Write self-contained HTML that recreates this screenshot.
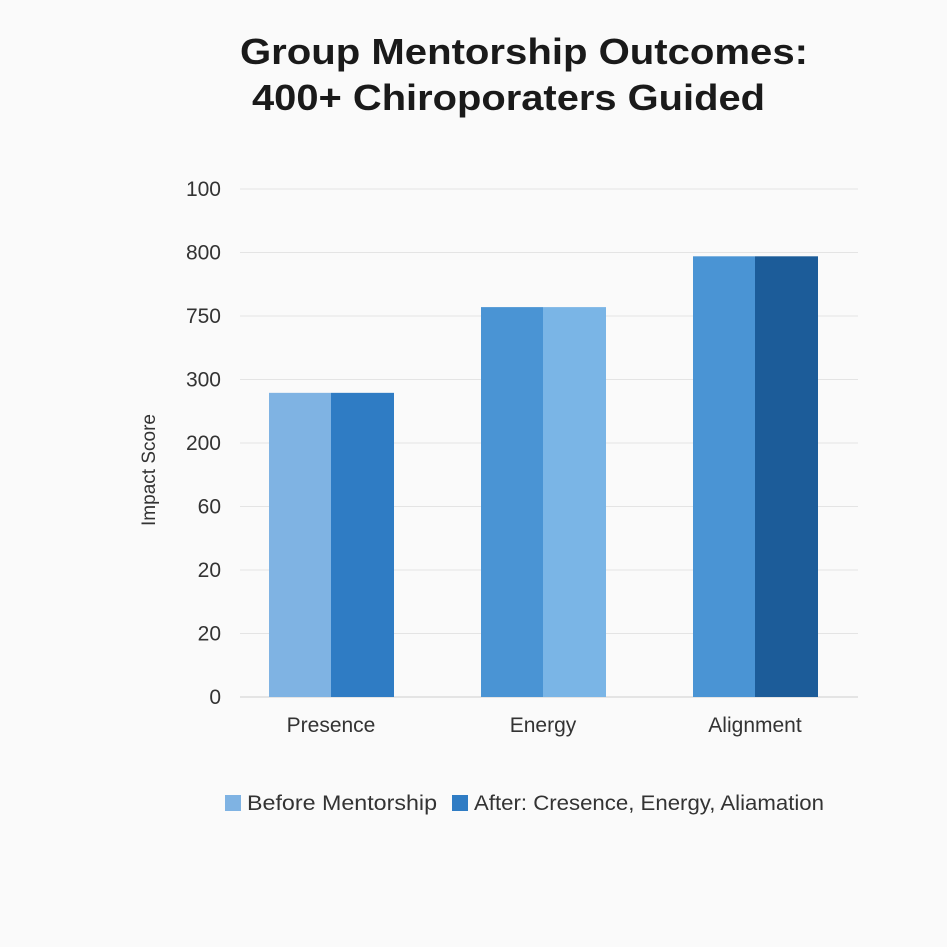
<!DOCTYPE html>
<html><head><meta charset="utf-8"><style>
body{margin:0;background:#fafafa;}
svg{display:block;font-family:"Liberation Sans",sans-serif;}
</style></head><body>
<svg id="chart" width="947" height="947" viewBox="0 0 947 947">
<rect width="947" height="947" fill="#fafafa"/>
<text x="240" y="64" font-size="36" font-weight="bold" fill="#1a1a1a" textLength="568" lengthAdjust="spacingAndGlyphs">Group Mentorship Outcomes:</text>
<text x="252" y="110" font-size="36" font-weight="bold" fill="#1a1a1a" textLength="513" lengthAdjust="spacingAndGlyphs">400+ Chiroporaters Guided</text>
<text transform="translate(155,470) rotate(-90)" text-anchor="middle" font-size="19" fill="#333">Impact Score</text>
<g id="grid"></g><g id="bars"></g><g id="xlabels"></g>
<g>
<rect x="225" y="795" width="16" height="16" fill="#7fb3e3"/>
<text x="247" y="810" font-size="21" fill="#333" textLength="190" lengthAdjust="spacingAndGlyphs">Before Mentorship</text>
<rect x="452" y="795" width="16" height="16" fill="#2f7cc4"/>
<text x="474" y="810" font-size="21" fill="#333" textLength="350" lengthAdjust="spacingAndGlyphs">After: Cresence, Energy, Aliamation</text>
</g>
</svg>
<script>
const categories = ["Presence", "Energy", "Alignment"];
const beforeValues = [4.79, 6.14, 6.94];
const afterValues = [4.79, 6.14, 6.94];
const tickLabels = ["0", "20", "20", "60", "200", "300", "750", "800", "100"];
const beforeColors = ["#7fb3e3", "#4a94d4", "#4a94d4"];
const afterColors = ["#2f7cc4", "#7ab5e6", "#1c5c99"];

const NS = "http://www.w3.org/2000/svg";
const x0 = 240, x1 = 858, yBase = 697, yTop = 189, maxV = 8;
const bandStart = 225, band = 212;
const y = v => yBase - (v / maxV) * (yBase - yTop);
const xc = i => bandStart + band * (i + 0.5);
function mk(tag, attrs, parent) {
  const e = document.createElementNS(NS, tag);
  for (const k in attrs) e.setAttribute(k, attrs[k]);
  parent.appendChild(e); return e;
}
const grid = document.getElementById("grid");
tickLabels.forEach((t, i) => {
  const yy = y(i);
  const l = mk("line", {x1: x0, x2: x1, y1: yy, y2: yy, stroke: i === 0 ? "#cfcfcf" : "#e4e4e4", "stroke-width": 1}, grid);
  
  
  const tx = mk("text", {x: 221, y: yy + 7, "text-anchor": "end", "font-size": 21, fill: "#333"}, grid);
  tx.textContent = t;
  
  
});
const bars = document.getElementById("bars"), xl = document.getElementById("xlabels");
const bw = 62;
categories.forEach((c, i) => {
  const cx = xc(i);
  const b1 = mk("rect", {x: cx - bw, y: y(beforeValues[i]), width: bw, height: yBase - y(beforeValues[i]), fill: beforeColors[i]}, bars);
  
  
  const b2 = mk("rect", {x: cx, y: y(afterValues[i]), width: bw + 1, height: yBase - y(afterValues[i]), fill: afterColors[i]}, bars);
  
  
  const t = mk("text", {x: cx, y: 732, "text-anchor": "middle", "font-size": 21, fill: "#333"}, xl);
  t.textContent = c;
  
  
});
</script>
</body></html>
